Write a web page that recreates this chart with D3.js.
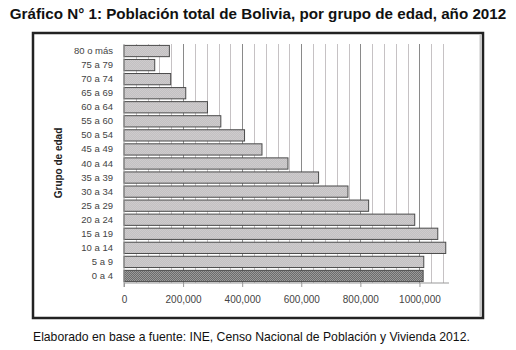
<!DOCTYPE html>
<html lang="es">
  <head>
    <meta charset="utf-8">
    <title>Población total de Bolivia 2012</title>
    <style>
      body { margin: 0; background: #fff; }
      svg { display: block; font-family: "Liberation Sans", Arial, sans-serif; }
    </style>
  </head>
  <body>
    <svg class="chart"></svg>
    <script src="https://d3js.org/d3.v7.min.js"></script>
    <script>
    // grupos de edad, de arriba hacia abajo como en el gráfico
    const grupos = ["80 o más", "75 a 79", "70 a 74", "65 a 69", "60 a 64", "55 a 60",
      "50 a 54", "45 a 49", "40 a 44", "35 a 39", "30 a 34", "25 a 29",
      "20 a 24", "15 a 19", "10 a 14", "5 a 9", "0 a 4"];
    const poblacion = [153600, 104000, 158000, 209000, 282500, 327700,
      408000, 467000, 555000, 658600, 758000, 828000,
      984000, 1062000, 1089000, 1014600, 1012500];
    const ticks = [0, 200000, 400000, 600000, 800000, 1000000];
    const tickLabels = ["0", "200,000", "400,000", "600,000", "800,000", "1000,000"];

    const W = 516, H = 350;
    const svg = d3.select(".chart").attr("width", W).attr("height", H);

    // texturas tipo "trama" de las barras
    const defs = svg.append("defs");
    function trama(id, a, b) {
      const p = defs.append("pattern").attr("id", id)
        .attr("width", 2).attr("height", 2).attr("patternUnits", "userSpaceOnUse");
      p.append("rect").attr("width", 2).attr("height", 2).attr("fill", a);
      p.append("rect").attr("width", 1).attr("height", 1).attr("fill", b);
      p.append("rect").attr("x", 1).attr("y", 1).attr("width", 1).attr("height", 1).attr("fill", b);
    }
    trama("claro", "#c2c2c2", "#cfcacd");
    trama("oscuro", "#6c6c6c", "#9a9a9a");

    svg.append("text")
      .attr("x", 258).attr("y", 19)
      .attr("text-anchor", "middle")
      .style("font-size", "15.2px").style("font-weight", "bold").attr("fill", "#111")
      .text("Gráfico N° 1: Población total de Bolivia, por grupo de edad, año 2012");

    // marco
    svg.append("rect")
      .attr("x", 33).attr("y", 33).attr("width", 450).attr("height", 285)
      .attr("fill", "#fff").attr("stroke", "#222").attr("stroke-width", 2.5);
    svg.append("line").attr("x1", 480.5).attr("x2", 480.5).attr("y1", 35).attr("y2", 316)
      .attr("stroke", "#c8c8c8").attr("stroke-width", 2);

    const x = d3.scaleLinear().domain([0, 1100000]).range([124, 449]);
    const y = d3.scaleBand().domain(grupos).range([44, 283]).paddingInner(0.2).paddingOuter(0.1);

    // líneas de división cada 40.000
    const grid = d3.range(40000, 1100000, 40000);
    svg.append("g").selectAll("line").data(grid).enter().append("line")
      .attr("x1", d => Math.round(x(d)) + 0.5).attr("x2", d => Math.round(x(d)) + 0.5)
      .attr("y1", 44).attr("y2", 283)
      .attr("stroke", d => d % 200000 === 0 ? "#8a8a8a" : "#c6c2c4")
      .attr("stroke-width", 1);

    svg.append("g").selectAll("rect").data(poblacion).enter().append("rect")
      .attr("x", x(0))
      .attr("y", (d, i) => y(grupos[i]))
      .attr("width", d => x(d) - x(0))
      .attr("height", y.bandwidth())
      .attr("fill", (d, i) => grupos[i] === "0 a 4" ? "url(#oscuro)" : "url(#claro)")
      .attr("stroke", "#4a4a4a").attr("stroke-width", 1);

    const xAxis = d3.axisBottom(x).tickValues(ticks)
      .tickFormat((d, i) => tickLabels[i]).tickSize(4).tickPadding(9);
    const gx = svg.append("g")
      .attr("transform", "translate(0,283)")
      .call(xAxis);
    gx.select(".domain").attr("stroke", "#999").attr("d", "M124,0H449");
    gx.selectAll(".tick line").attr("stroke", "#999");
    gx.selectAll("text").style("font-size", "10px").attr("fill", "#444");

    const yAxis = d3.axisLeft(y).tickSize(0).tickPadding(11);
    const gy = svg.append("g")
      .attr("transform", "translate(124,0)")
      .call(yAxis);
    gy.select(".domain").attr("stroke", "#999").attr("d", "M0,44V287");
    gy.selectAll("text").style("font-size", "9.5px").attr("fill", "#444");

    svg.append("text")
      .attr("transform", "translate(62,163) rotate(-90)")
      .attr("text-anchor", "middle")
      .style("font-size", "10px").style("font-weight", "bold").attr("fill", "#222")
      .text("Grupo de edad");

    svg.append("text")
      .attr("x", 33).attr("y", 341)
      .style("font-size", "12.2px").attr("fill", "#111")
      .text("Elaborado en base a fuente: INE, Censo Nacional de Población y Vivienda 2012.");
    </script>
  </body>
</html>
